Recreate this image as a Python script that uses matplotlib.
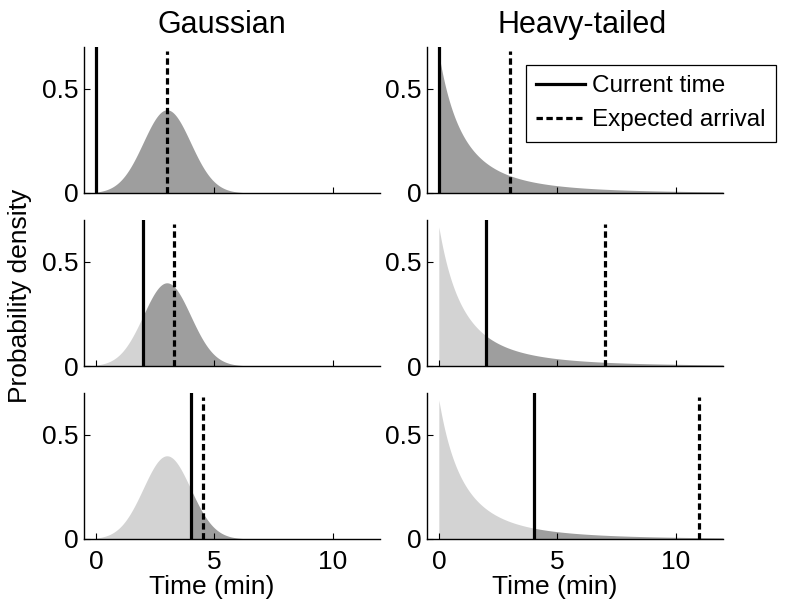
import numpy as np
import matplotlib
matplotlib.use("Agg")
import matplotlib.pyplot as plt
from matplotlib.lines import Line2D

plt.rcParams['font.family'] = ['Liberation Sans', 'DejaVu Sans']

# ---- data ----
column_titles = ["Gaussian", "Heavy-tailed"]
current_times = [0, 2, 4]
gauss_expected = [3.0, 3.29, 4.53]
heavy_expected = [3.0, 7.0, 11.0]
gauss_mean, gauss_sd = 3.0, 1.0
lomax_shape, lomax_scale = 2.0, 3.0
x_ticks = [0, 5, 10]
y_ticks = [0, 0.5]
y_tick_labels = ["0", "0.5"]
legend_labels = ["Current time", "Expected arrival"]


def gauss_pdf(x):
    return np.exp(-0.5 * ((x - gauss_mean) / gauss_sd) ** 2) / (gauss_sd * np.sqrt(2 * np.pi))


def lomax_pdf(x):
    return (lomax_shape / lomax_scale) * (1 + x / lomax_scale) ** (-(lomax_shape + 1))


pdfs = [gauss_pdf, lomax_pdf]
expected = [gauss_expected, heavy_expected]

W, H = 794, 613
fig = plt.figure(figsize=(W / 100, H / 100), dpi=100)

col_left = [84, 427]
col_w = 296
row_top = [47, 220, 393]
row_h = 146

light = "#d3d3d3"
dark = "#9e9e9e"
xs = np.linspace(0, 12, 2000)

for c in range(2):
    for r in range(3):
        ax = fig.add_axes([col_left[c] / W, 1 - (row_top[r] + row_h) / H, col_w / W, row_h / H])
        pdf = pdfs[c]
        t = current_times[r]
        y = pdf(xs)
        ax.fill_between(xs, 0, y, where=xs <= t, color=light, lw=0, interpolate=True)
        ax.fill_between(xs, 0, y, where=xs >= t, color=dark, lw=0, interpolate=True)
        ax.axvline(t, color="black", lw=2.3)
        ax.axvline(expected[c][r], color="black", lw=2.3, ls=(0, (2.0, 1.1)), ymax=0.97)
        ax.set_xlim(-0.5, 12)
        ax.set_ylim(0, 0.7)
        for s in ["top", "right"]:
            ax.spines[s].set_visible(False)
        for s in ["left", "bottom"]:
            ax.spines[s].set_linewidth(1.0)
        ax.set_xticks(x_ticks)
        ax.set_yticks(y_ticks)
        ax.set_yticklabels(y_tick_labels)
        ax.tick_params(direction="in", length=4, width=0.8, labelsize=19)
        ax.tick_params(axis="x", pad=8)
        ax.tick_params(axis="y", pad=4)
        if r == 2:
            ax.set_xlabel("Time (min)", fontsize=19)
            ax.xaxis.set_label_coords(0.43, -0.245)
        else:
            ax.set_xticklabels([])

fig.text(222 / W, 1 - 33 / H, column_titles[0], fontsize=22, ha="center", va="baseline")
fig.text(582 / W, 1 - 33 / H, column_titles[1], fontsize=22, ha="center", va="baseline")
fig.text(20 / W, 1 - 296 / H, "Probability density", fontsize=19, rotation=90, ha="center", va="center")

handles = [Line2D([], [], color="black", lw=2.3),
           Line2D([], [], color="black", lw=2.3, ls=(0, (2.0, 1.1)))]
leg = fig.legend(handles, legend_labels, loc="upper left",
                 bbox_to_anchor=(526 / W, 1 - 65 / H), fontsize=17.5,
                 handlelength=2.0, handletextpad=0.3, borderpad=0.42,
                 labelspacing=0.5, fancybox=False, framealpha=1,
                 borderaxespad=0)
leg.get_frame().set_edgecolor("black")
leg.get_frame().set_linewidth(0.9)

fig.savefig("out.png", dpi=100)
